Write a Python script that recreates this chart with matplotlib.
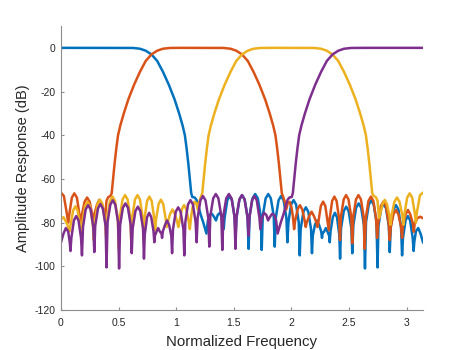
import matplotlib
matplotlib.use("Agg")
import matplotlib.pyplot as plt
import numpy as np

plt.rcParams["font.family"] = ["Liberation Sans", "DejaVu Sans"]
plt.rcParams["axes.unicode_minus"] = False

# Filter responses (normalized frequency, amplitude in dB)
blue_x = [0.0, 0.5, 0.625, 0.685, 0.735, 0.785, 0.835, 0.885, 0.935, 0.985, 1.025, 1.055, 1.075, 1.09, 1.105, 1.12, 1.13,
          1.14, 1.16, 1.175, 1.19, 1.21, 1.235, 1.262,
          1.275, 1.29, 1.31, 1.33, 1.345, 1.36, 1.38, 1.398, 1.412,
          1.420, 1.443, 1.4635, 1.484, 1.507, 1.515,
          1.524, 1.549, 1.5715, 1.594, 1.619, 1.628,
          1.637, 1.662, 1.685, 1.708, 1.733, 1.742,
          1.751, 1.776, 1.7985, 1.821, 1.846, 1.855,
          1.864, 1.888, 1.910, 1.932, 1.956, 1.965,
          1.974, 1.997, 2.0185, 2.040, 2.063, 2.072,
          2.080, 2.104, 2.125, 2.146, 2.170, 2.178,
          2.185, 2.204, 2.2215, 2.239, 2.258, 2.265,
          2.270, 2.285, 2.2985, 2.312, 2.327, 2.332,
          2.339, 2.359, 2.377, 2.395, 2.415, 2.422,
          2.430, 2.454, 2.475, 2.496, 2.520, 2.528,
          2.537, 2.561, 2.583, 2.605, 2.629, 2.638,
          2.647, 2.671, 2.6925, 2.714, 2.738, 2.747,
          2.755, 2.779, 2.800, 2.821, 2.845, 2.853,
          2.862, 2.885, 2.9065, 2.928, 2.951, 2.960,
          2.968, 2.990, 3.010, 3.030, 3.052, 3.060,
          3.066, 3.080, 3.100, 3.120, 3.1416]
blue_db = [0, 0, -0.05, -0.4, -1.3, -3.0, -6.0, -11.0, -16.8, -23.5, -30.0, -35.5, -40.0, -46.0, -53.0, -61.0, -66.5,
           -68.3, -68.5, -69.5, -72, -76, -80, -85,
           -79, -76.5, -76, -77.5, -79, -76.5, -75.5, -78, -83,
           -77.8, -69.8, -67.8, -69.8, -77.8, -86,
           -77.4, -69.4, -67.4, -69.4, -77.4, -92,
           -76.9, -68.9, -66.9, -68.9, -76.9, -92.5,
           -76.9, -68.9, -66.9, -68.9, -76.9, -91,
           -77.8, -69.8, -67.8, -69.8, -77.8, -89,
           -79.7, -71.7, -69.7, -71.7, -79.7, -95,
           -83, -75, -73, -75, -83, -94,
           -86, -81, -79, -81, -84, -87,
           -85, -84, -82.5, -84, -86, -89,
           -84, -77.5, -75.5, -77.5, -85.5, -96.5,
           -82.7, -74.7, -72.7, -74.7, -82.7, -94,
           -81.2, -73.2, -71.2, -73.2, -81.2, -101,
           -79.8, -71.8, -69.8, -71.8, -79.8, -100.5,
           -81.5, -73.5, -71.5, -73.5, -81.5, -93.5,
           -82, -74, -72, -74, -82, -95,
           -87, -79, -77, -79, -87, -93,
           -89, -84, -82.5, -85, -89]

orange_x = [0.0, 0.025, 0.052, 0.062,
            0.071, 0.094, 0.116, 0.138, 0.161, 0.170,
            0.179, 0.204, 0.2265, 0.249, 0.274, 0.283,
            0.291, 0.313, 0.3325, 0.352, 0.374, 0.382,
            0.395, 0.41, 0.43, 0.44, 0.45, 0.465, 0.48, 0.495, 0.515, 0.545, 0.585, 0.635, 0.685,
            0.735, 0.785, 0.835, 0.885, 0.945, 1.05,
            1.31, 1.411, 1.471, 1.521, 1.571, 1.621, 1.671, 1.721, 1.771, 1.811, 1.841, 1.861,
            1.876, 1.891, 1.906, 1.916,
            1.93, 1.945, 1.955, 1.968, 1.985, 2.0, 2.012, 2.023,
            2.031, 2.053, 2.0735, 2.094, 2.116, 2.124,
            2.132, 2.154, 2.1745, 2.195, 2.217, 2.225,
            2.233, 2.255, 2.2745, 2.294, 2.316, 2.324,
            2.332, 2.353, 2.3725, 2.392, 2.413, 2.421,
            2.429, 2.453, 2.474, 2.495, 2.519, 2.527,
            2.536, 2.560, 2.5815, 2.603, 2.627, 2.636,
            2.645, 2.668, 2.6895, 2.711, 2.734, 2.743,
            2.752, 2.776, 2.798, 2.820, 2.844, 2.853,
            2.862, 2.885, 2.9065, 2.928, 2.951, 2.960,
            2.968, 2.991, 3.011, 3.031, 3.054, 3.062,
            3.069, 3.092, 3.118, 3.1416]
orange_db = [-66.3, -67.8, -76.3, -80,
             -76.6, -68.6, -66.6, -68.6, -76.6, -81,
             -77, -70.5, -68.5, -70.5, -77, -81,
             -76, -71.6, -69.6, -71.6, -75, -78,
             -70, -68.3, -67.8, -66.5, -61, -53, -46, -40, -35.5, -30, -23.5, -16.8, -11,
             -6, -3, -1.3, -0.4, -0.05, 0,
             0, -0.05, -0.4, -1.3, -3, -6, -11, -16.8, -23.5, -30, -35.5, -40,
             -46, -53, -61, -66.5,
             -68.5, -71, -74, -71, -70.5, -73, -77, -83,
             -79.5, -74, -72, -74, -79.5, -82,
             -80, -77, -75, -77, -80, -82,
             -80, -72.4, -70.4, -72.4, -80.4, -83.5,
             -78.1, -70.1, -68.1, -70.1, -78.1, -88,
             -77.4, -69.4, -67.4, -69.4, -77.4, -89.5,
             -77.4, -69.4, -67.4, -69.4, -77.4, -92,
             -78.1, -70.1, -68.1, -70.1, -78.1, -87,
             -80.4, -72.4, -70.4, -72.4, -80.4, -88,
             -82, -76.2, -74.2, -76.2, -82, -87,
             -81, -76.2, -74.2, -76.2, -80.5, -84.2,
             -80.5, -78, -77.3, -78]

yellow_x = [0.0, 0.022, 0.052, 0.075,
            0.083, 0.105, 0.125, 0.145, 0.167, 0.175,
            0.184, 0.208, 0.230, 0.252, 0.276, 0.285,
            0.294, 0.317, 0.3385, 0.360, 0.383, 0.392,
            0.401, 0.425, 0.447, 0.469, 0.493, 0.502,
            0.511, 0.534, 0.556, 0.578, 0.601, 0.610,
            0.619, 0.642, 0.6635, 0.685, 0.708, 0.717,
            0.725, 0.747, 0.767, 0.787, 0.809, 0.817,
            0.825, 0.847, 0.867, 0.887, 0.909, 0.917,
            0.925, 0.947, 0.9675, 0.988, 1.010, 1.018,
            1.026, 1.048, 1.068, 1.088, 1.110, 1.118,
            1.13, 1.142, 1.157, 1.174, 1.187, 1.197, 1.212, 1.226,
            1.236, 1.251, 1.266, 1.281, 1.301, 1.331, 1.371, 1.421, 1.471, 1.521, 1.571, 1.621,
            1.671, 1.731, 1.831,
            2.096, 2.196, 2.256, 2.306, 2.356, 2.406, 2.456, 2.506, 2.556, 2.596, 2.626, 2.646,
            2.661, 2.676, 2.691, 2.701,
            2.712, 2.732, 2.747, 2.760,
            2.768, 2.790, 2.8095, 2.829, 2.851, 2.859,
            2.868, 2.893, 2.9155, 2.938, 2.963, 2.972,
            2.981, 3.004, 3.026, 3.048, 3.071, 3.080,
            3.088, 3.115, 3.1416]
yellow_db = [-78.5, -77.5, -80.5, -84,
             -81, -74.5, -72.5, -74.5, -82, -86,
             -80.5, -72.5, -70.5, -72.5, -80.5, -88,
             -79.5, -71.5, -69.5, -71.5, -79.5, -87,
             -78.1, -70.1, -68.1, -70.1, -78.1, -92,
             -77.4, -69.4, -67.4, -69.4, -77.4, -89.5,
             -77.4, -69.4, -67.4, -69.4, -77.4, -88,
             -78.1, -70.1, -68.1, -70.1, -78.1, -83.5,
             -78.5, -71.5, -69.5, -71.5, -78.5, -82,
             -80, -76, -74, -76, -80, -82,
             -80, -74, -72, -74, -80, -83,
             -77, -73, -70.5, -71, -74, -71, -68.5, -66.5,
             -61, -53, -46, -40, -35.5, -30, -23.5, -16.8, -11, -6, -3, -1.3,
             -0.4, -0.05, 0,
             0, -0.05, -0.4, -1.3, -3, -6, -11, -16.8, -23.5, -30, -35.5, -40,
             -46, -53, -61, -66.5,
             -67.8, -68.3, -70, -78,
             -76.5, -71.6, -69.6, -71.6, -77, -81,
             -77, -70.5, -68.5, -70.5, -77, -81,
             -76, -68.6, -66.6, -68.6, -76, -80,
             -75.5, -67.5, -66.3]

purple_x = [0.0, 0.022, 0.042, 0.062, 0.076, 0.082,
            0.090, 0.112, 0.132, 0.152, 0.174, 0.182,
            0.191, 0.214, 0.2355, 0.257, 0.280, 0.289,
            0.297, 0.321, 0.342, 0.363, 0.387, 0.395,
            0.404, 0.428, 0.4495, 0.471, 0.495, 0.504,
            0.513, 0.537, 0.559, 0.581, 0.605, 0.614,
            0.622, 0.646, 0.667, 0.688, 0.712, 0.720,
            0.727, 0.747, 0.765, 0.783, 0.803, 0.810,
            0.815, 0.830, 0.8435, 0.857, 0.872, 0.877,
            0.884, 0.903, 0.9205, 0.938, 0.957, 0.964,
            0.972, 0.996, 1.017, 1.038, 1.062, 1.070,
            1.079, 1.102, 1.1235, 1.145, 1.168, 1.177,
            1.186, 1.210, 1.232, 1.254, 1.278, 1.287,
            1.296, 1.321, 1.3435, 1.366, 1.391, 1.400,
            1.409, 1.434, 1.457, 1.480, 1.505, 1.514,
            1.523, 1.548, 1.5705, 1.593, 1.618, 1.627,
            1.635, 1.658, 1.6785, 1.699, 1.722, 1.730,
            1.744, 1.762, 1.782, 1.797, 1.812, 1.832, 1.852, 1.867, 1.880,
            1.907, 1.932, 1.952, 1.967, 1.982, 2.002, 2.012,
            2.022, 2.037, 2.052, 2.067, 2.087, 2.117, 2.157, 2.207, 2.257, 2.307, 2.357, 2.407,
            2.457, 2.517, 2.642, 3.1416]
purple_db = [-89, -85, -82.5, -84, -89, -93,
             -87, -79, -77, -79, -87, -95,
             -82, -74, -72, -74, -82, -93.5,
             -81.5, -73.5, -71.5, -73.5, -81.5, -100.5,
             -79.8, -71.8, -69.8, -71.8, -79.8, -101,
             -81.2, -73.2, -71.2, -73.2, -81.2, -94,
             -82.7, -74.7, -72.7, -74.7, -82.7, -96.5,
             -85.5, -77.5, -75.5, -77.5, -84, -89,
             -86, -84, -82.5, -84, -85, -87,
             -84, -81, -79, -81, -86, -94,
             -83, -75, -73, -75, -83, -95,
             -79.7, -71.7, -69.7, -71.7, -79.7, -89,
             -77.8, -69.8, -67.8, -69.8, -77.8, -91,
             -76.9, -68.9, -66.9, -68.9, -76.9, -92.5,
             -76.9, -68.9, -66.9, -68.9, -76.9, -92,
             -77.4, -69.4, -67.4, -69.4, -77.4, -86,
             -77.8, -69.8, -67.8, -69.8, -77.8, -83,
             -78, -75.5, -76.5, -79, -77.5, -76, -76.5, -79, -85,
             -80, -76, -72, -69.5, -68.5, -68.3, -66.5,
             -61, -53, -46, -40, -35.5, -30, -23.5, -16.8, -11, -6, -3, -1.3,
             -0.4, -0.05, 0, 0]

xticks = [0, 0.5, 1, 1.5, 2, 2.5, 3]
xtick_labels = ["0", "0.5", "1", "1.5", "2", "2.5", "3"]
yticks = [-120, -100, -80, -60, -40, -20, 0]
ytick_labels = ["-120", "-100", "-80", "-60", "-40", "-20", "0"]

colors = ["#0072BD", "#D95319", "#EDB120", "#7E2F8E"]
curves = [(blue_x, blue_db), (orange_x, orange_db), (yellow_x, yellow_db), (purple_x, purple_db)]

fig = plt.figure(figsize=(4.67, 3.5), dpi=100)
ax = fig.add_axes([61 / 467, 40 / 350, 362 / 467, 284 / 350])

for (x, y), c in zip(curves, colors):
    ax.plot(x, y, color=c, lw=1.8, solid_joinstyle="round")

ax.set_xlim(0, np.pi)
ax.set_ylim(-120, 10)
ax.set_xticks(xticks)
ax.set_xticklabels(xtick_labels)
ax.set_yticks(yticks)
ax.set_yticklabels(ytick_labels)

for side in ["top", "right"]:
    ax.spines[side].set_visible(False)
for side in ["left", "bottom"]:
    ax.spines[side].set_color("#8c8c8c")
    ax.spines[side].set_linewidth(0.8)

ax.tick_params(direction="in", length=2.5, width=0.8, color="#8c8c8c",
               labelsize=7.5, labelcolor="#262626")
ax.tick_params(axis="x", pad=6)
ax.tick_params(axis="y", pad=4)

ax.set_xlabel("Normalized Frequency", fontsize=10.8, color="#262626", labelpad=5)
ax.set_ylabel("Amplitude Response (dB)", fontsize=10.5, color="#262626", labelpad=3)

fig.savefig("out.png", dpi=100)
